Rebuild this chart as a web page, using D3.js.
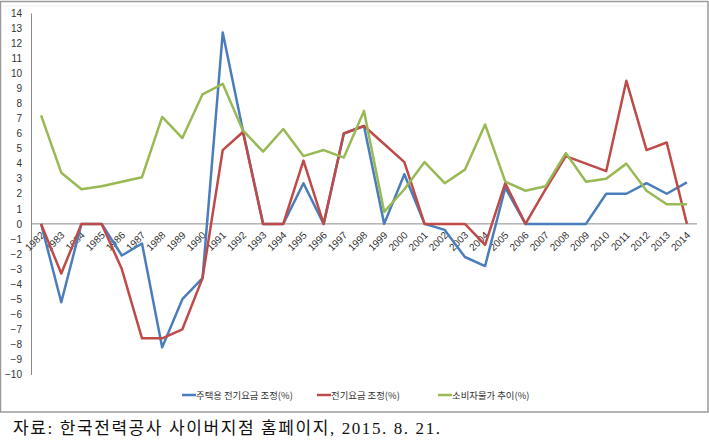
<!DOCTYPE html>
<html><head><meta charset="utf-8">
<script src="https://cdn.jsdelivr.net/npm/d3@7"></script>
<style>
html,body{margin:0;padding:0;background:#fff;}
svg{display:block;}
</style></head>
<body>
<svg id="chart" width="709" height="444"></svg>
<script>
const years = d3.range(1982, 2015).map(String);
const residential = [0, -5.2, 0, 0, -2.1, -1.3, -8.2, -5.0, -3.6, 12.7, 6.2, 0, 0, 2.7, 0, 6.0, 6.5, 0, 3.3, 0, -0.4, -2.2, -2.8, 2.4, 0, 0, 0, 0, 2.0, 2.0, 2.7, 2.0, 2.75];
const electricity = [0, -3.3, 0, 0, -3.0, -7.6, -7.6, -7.0, -3.6, 4.9, 6.1, 0, 0, 4.2, 0, 6.0, 6.5, 5.3, 4.1, 0, 0, 0, -1.4, 2.7, 0, 2.3, 4.5, 4.0, 3.5, 9.5, 4.9, 5.4, 0];
const cpi = [7.2, 3.4, 2.3, 2.5, 2.8, 3.1, 7.1, 5.7, 8.6, 9.3, 6.2, 4.8, 6.3, 4.5, 4.9, 4.4, 7.5, 0.8, 2.3, 4.1, 2.7, 3.6, 6.6, 2.8, 2.2, 2.5, 4.7, 2.8, 3.0, 4.0, 2.2, 1.3, 1.3];
const seriesNames = ["주택용 전기요금 조정(%)", "전기요금 조정(%)", "소비자물가 추이(%)"];
const seriesColors = ["#4A7EBB", "#BE4B48", "#98B954"];
const yTicks = d3.range(-10, 15);
const sourceText = "자료: 한국전력공사 사이버지점 홈페이지, 2015. 8. 21.";

const svg = d3.select("#chart");

// outer frame
svg.append("rect").attr("x", 0.5).attr("y", 1.5).attr("width", 707.5).attr("height", 410.5)
  .attr("fill", "none").attr("stroke", "#9a9a9a").attr("stroke-width", 1.5);
svg.append("line").attr("x1", 1).attr("x2", 707).attr("y1", 6).attr("y2", 6)
  .attr("stroke", "#eeeeee").attr("stroke-width", 1);

const x = d3.scaleBand().domain(years).range([31, 697]);
const y = d3.scaleLinear().domain([-10, 14]).range([374.5, 13]);
const xc = d => x(d) + x.bandwidth() / 2;

// y axis
const yAxis = d3.axisLeft(y).tickValues(yTicks).tickSize(0).tickPadding(9);
const gy = svg.append("g").attr("transform", "translate(31,0)").call(yAxis);
gy.select(".domain").attr("stroke", "#8a8a8a").attr("stroke-width", 1);
gy.selectAll("text").attr("font-family", "Liberation Sans, Arial, sans-serif")
  .attr("font-size", 10).attr("fill", "#333");

// zero line (category axis)
svg.append("line").attr("x1", 31).attr("x2", 697).attr("y1", y(0)).attr("y2", y(0))
  .attr("stroke", "#8a8a8a").attr("stroke-width", 1);

// x labels rotated
svg.append("g").selectAll("text").data(years).join("text")
  .attr("transform", d => `translate(${xc(d) + 4},${y(0) + 12}) rotate(-45)`)
  .attr("text-anchor", "end")
  .attr("font-family", "Liberation Sans, Arial, sans-serif")
  .attr("font-size", 10).attr("fill", "#333")
  .text(d => d);

// lines
const line = d3.line().x((d, i) => xc(years[i])).y(d => y(d));
[residential, electricity, cpi].forEach((s, k) => {
  svg.append("path").datum(s).attr("d", line)
    .attr("fill", "none").attr("stroke", seriesColors[k])
    .attr("stroke-width", 2.5).attr("stroke-linejoin", "round");
});

// legend
const legendX = [182, 317, 438];
const lg = svg.append("g");
seriesNames.forEach((n, k) => {
  lg.append("line").attr("x1", legendX[k]).attr("x2", legendX[k] + 14)
    .attr("y1", 395).attr("y2", 395).attr("stroke", seriesColors[k]).attr("stroke-width", 2.5);
  lg.append("text").attr("x", legendX[k] + 14).attr("y", 398.5)
    .attr("font-family", "Noto Sans CJK KR, sans-serif").attr("font-size", 9.4)
    .attr("fill", "#333").text(n);
});

// source
svg.append("text").attr("x", 13).attr("y", 434)
  .attr("font-family", "Liberation Serif, Noto Sans CJK KR, serif")
  .attr("font-size", 17).attr("fill", "#111")
  .attr("textLength", 427).attr("lengthAdjust", "spacing")
  .text(sourceText);
</script>
</body></html>
